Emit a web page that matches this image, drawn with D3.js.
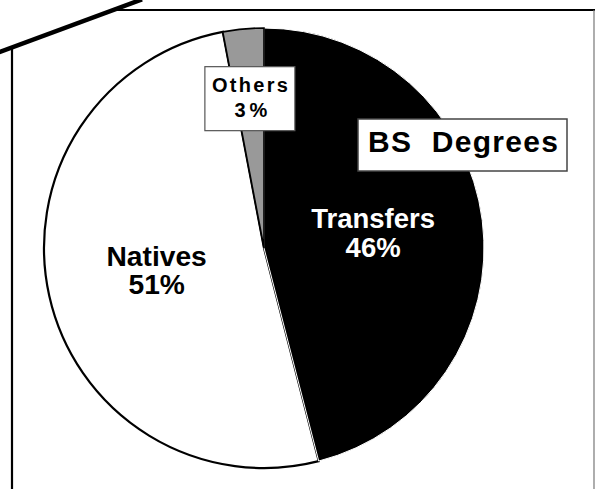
<!DOCTYPE html>
<html>
<head>
<meta charset="utf-8">
<script src="https://cdn.jsdelivr.net/npm/d3@7"></script>
<style>
  html, body { margin: 0; padding: 0; background: #fff; }
  svg { display: block; }
  text { font-family: "Liberation Sans", Arial, sans-serif; font-weight: bold; }
</style>
</head>
<body>
<svg id="chart" width="595" height="489"></svg>
<script>
// ---- data ----
const categories = ["Transfers", "Natives", "Others"];
const values = [46, 51, 3];
const percentLabels = ["46%", "51%", "3 %"];
const fills = ["#000000", "#ffffff", "#999999"];
const title = "BS  Degrees";

const svg = d3.select("#chart");
const cx = 264, cy = 248, R = 220;

// frame with clipped corner
const frame = svg.append("g").attr("fill", "none");
frame.append("line").attr("x1", 113).attr("y1", 10).attr("x2", 595).attr("y2", 10)
  .attr("stroke", "#000").attr("stroke-width", 2.2);
frame.append("line").attr("x1", 12).attr("y1", 47).attr("x2", 12).attr("y2", 489)
  .attr("stroke", "#000").attr("stroke-width", 2.2);
frame.append("line").attr("x1", 594).attr("y1", 10).attr("x2", 594).attr("y2", 489)
  .attr("stroke", "#777").attr("stroke-width", 1.2);
frame.append("line").attr("x1", -2).attr("y1", 52.7).attr("x2", 142).attr("y2", -0.6)
  .attr("stroke", "#000").attr("stroke-width", 4.5);

const data = categories.map((c, i) => ({ cat: c, value: values[i], label: percentLabels[i], fill: fills[i], i }));

const pie = d3.pie().sort(null).value(d => d.value).startAngle(0).endAngle(2 * Math.PI);
const arcs = pie(data);
const arc = d3.arc().innerRadius(0).outerRadius(R);

const g = svg.append("g").attr("transform", `translate(${cx},${cy})`);

// draw order: Natives, Transfers, Others
const styles = {
  Natives: { stroke: "#000", sw: 2.2 },
  Transfers: { stroke: "#fff", sw: 1 },
  Others: { stroke: "#000", sw: 1.6 }
};
["Natives", "Transfers", "Others"].forEach(name => {
  const a = arcs.find(d => d.data.cat === name);
  g.append("path")
    .attr("d", arc(a))
    .attr("fill", a.data.fill)
    .attr("stroke", styles[name].stroke)
    .attr("stroke-width", styles[name].sw)
    .attr("stroke-linejoin", "miter");
});

// labels
const labelArcBig = d3.arc().innerRadius(110).outerRadius(110);
const labelArcSmall = d3.arc().innerRadius(150).outerRadius(150);

arcs.forEach(a => {
  const name = a.data.cat;
  if (name === "Others") {
    const [lx, ly] = labelArcSmall.centroid(a);
    const bw = 90, bh = 64;
    g.append("rect")
      .attr("x", lx - bw / 2).attr("y", ly - bh / 2)
      .attr("width", bw).attr("height", bh)
      .attr("fill", "#fff").attr("stroke", "#555").attr("stroke-width", 1.2);
    const t = g.append("text").attr("text-anchor", "middle").attr("font-size", 20)
      .attr("fill", "#000").style("white-space", "pre");
    t.append("tspan").attr("x", lx).attr("y", ly - 6.5)
      .attr("textLength", 76).attr("lengthAdjust", "spacing").text(name);
    t.append("tspan").attr("x", lx + 1).attr("y", ly + 18.5)
      .attr("textLength", 33).attr("lengthAdjust", "spacing").text(a.data.label);
  } else {
    const [lx, ly] = labelArcBig.centroid(a);
    const color = name === "Transfers" ? "#fff" : "#000";
    const fs = name === "Transfers" ? 27.5 : 28.2;
    const t = g.append("text").attr("text-anchor", "middle").attr("font-size", fs)
      .attr("fill", color);
    t.append("tspan").attr("x", lx).attr("y", ly - 6.5).text(name);
    t.append("tspan").attr("x", lx).attr("y", ly + 22.5).text(a.data.label);
  }
});

// title box
svg.append("rect").attr("x", 358).attr("y", 119).attr("width", 209).attr("height", 52)
  .attr("fill", "#fff").attr("stroke", "#444").attr("stroke-width", 1.5);
svg.append("text").attr("x", 463).attr("y", 151.5)
  .attr("text-anchor", "middle").attr("font-size", 30)
  .attr("textLength", 190).attr("lengthAdjust", "spacing")
  .style("white-space", "pre")
  .attr("fill", "#000").text(title);
</script>
</body>
</html>
